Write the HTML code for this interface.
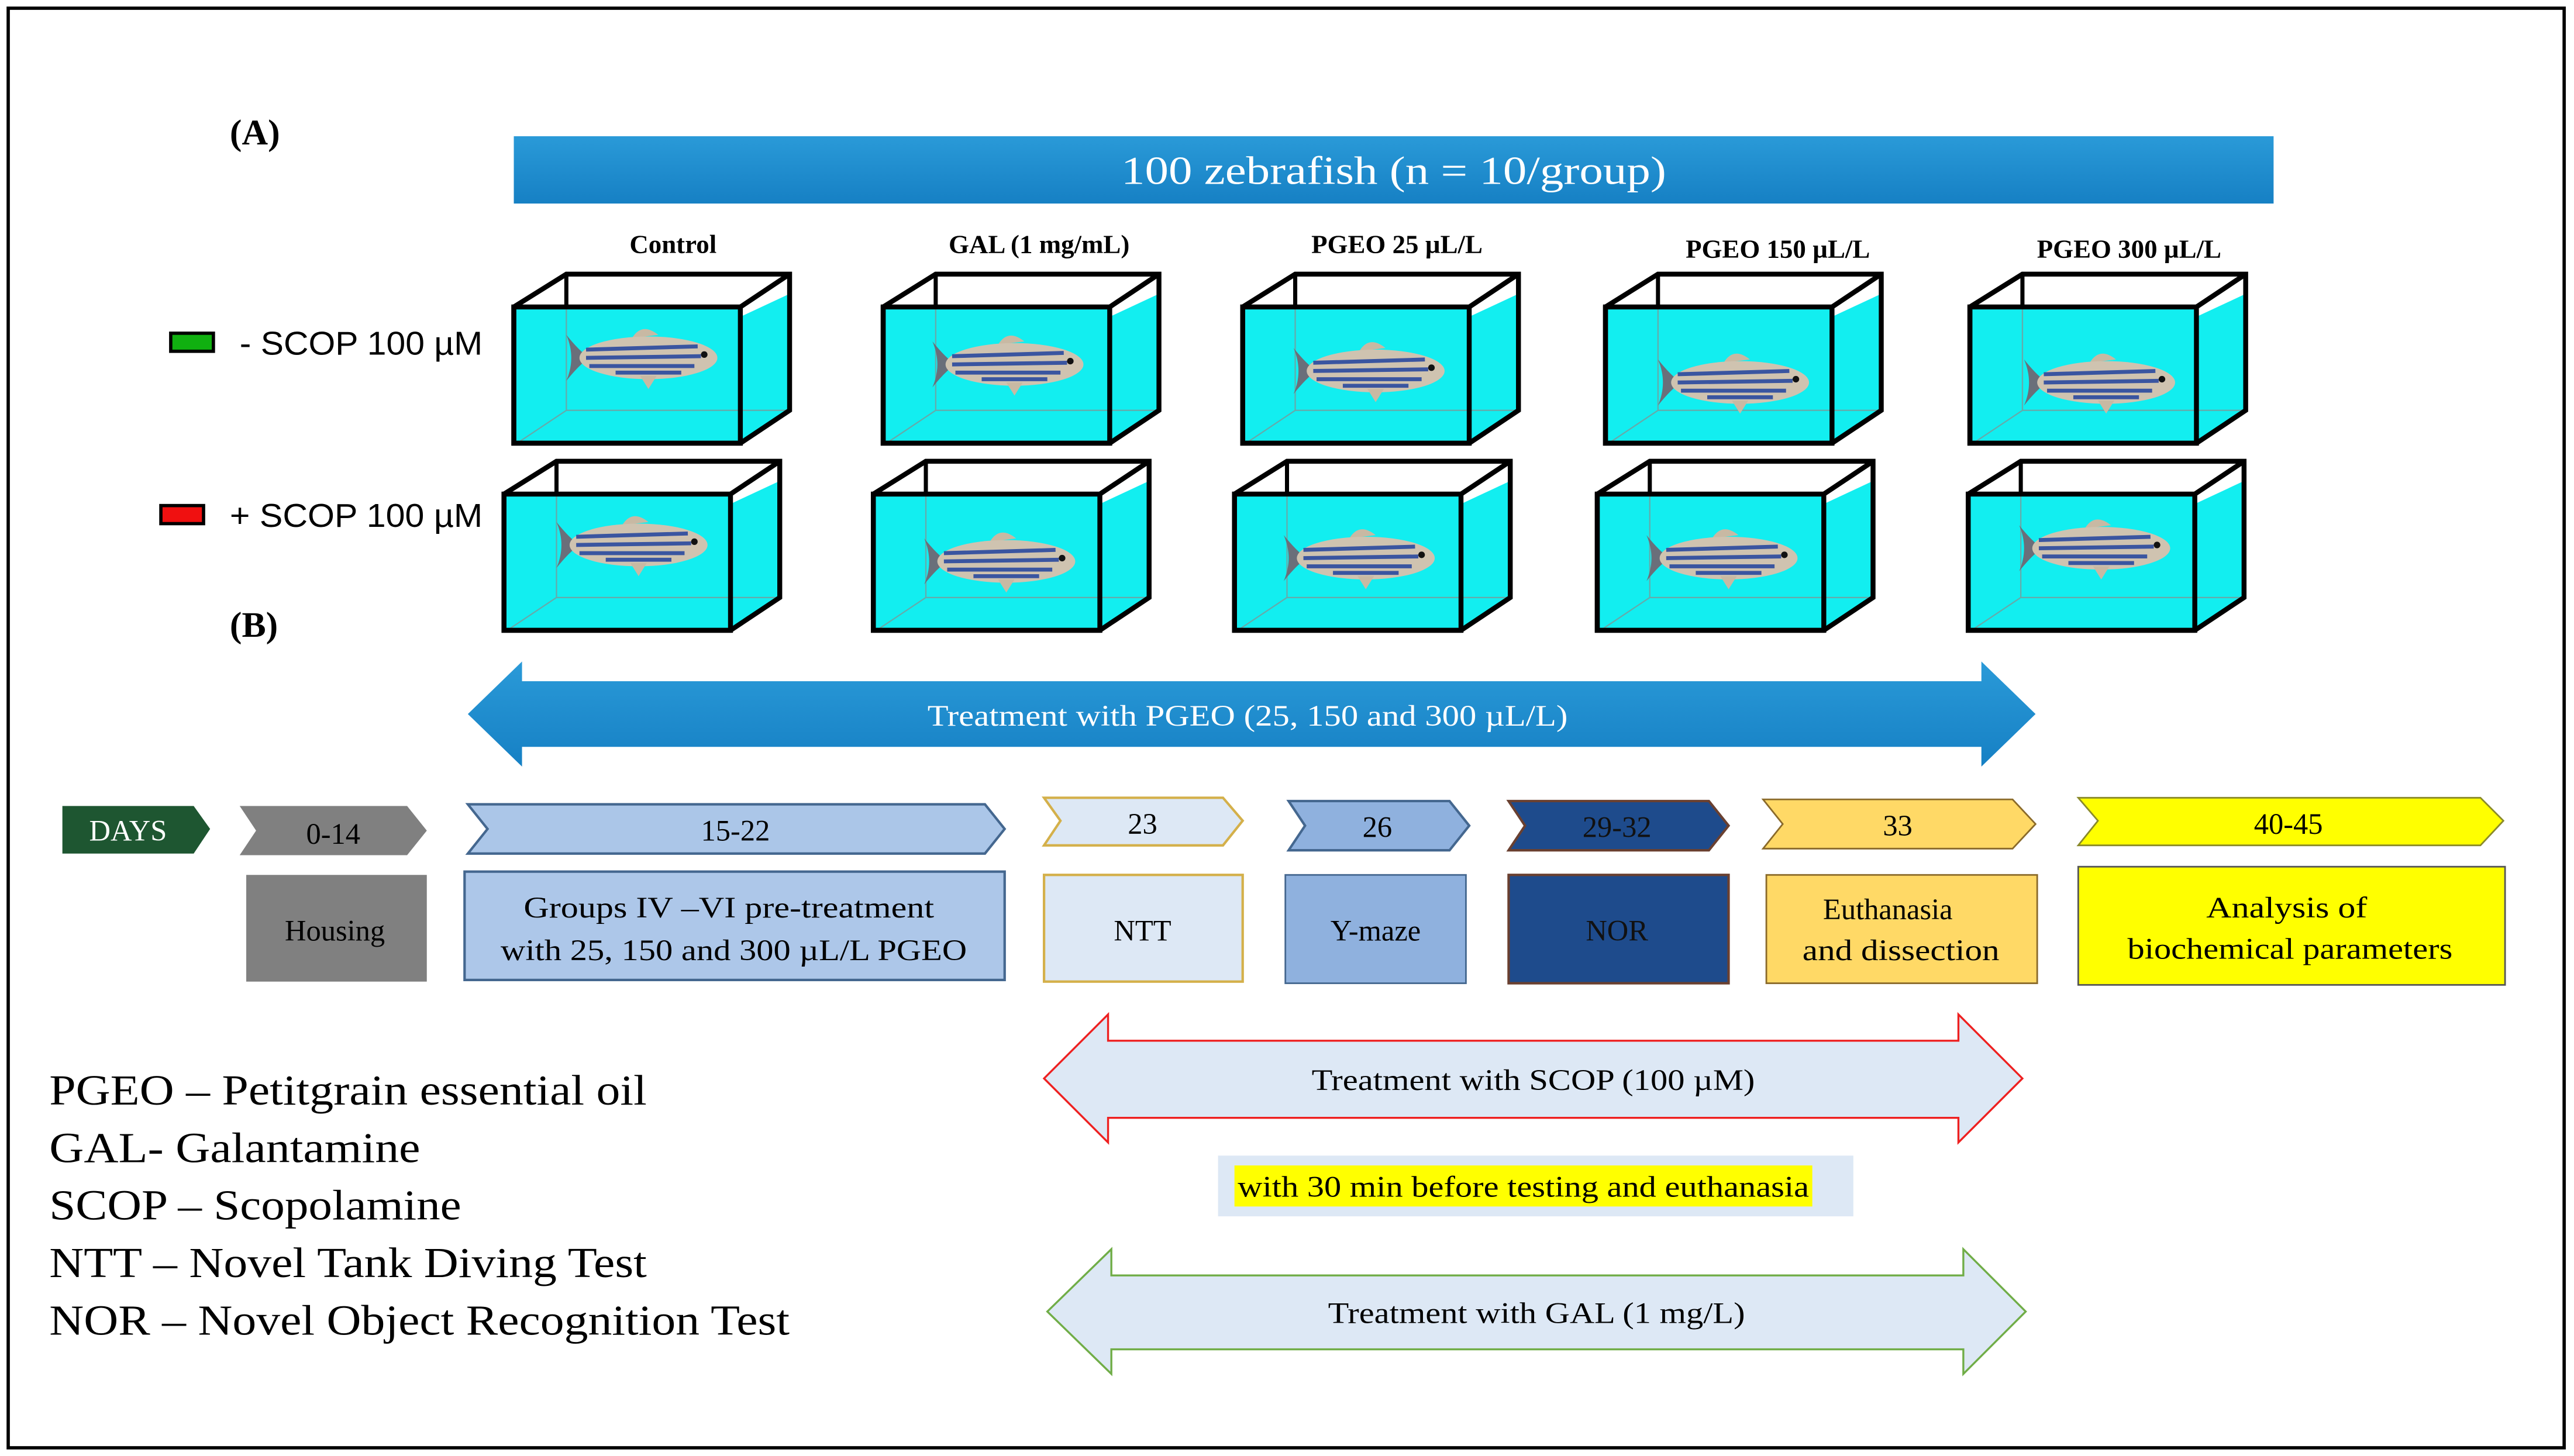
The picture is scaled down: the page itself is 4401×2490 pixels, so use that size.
<!DOCTYPE html>
<html><head><meta charset="utf-8"><style>html,body{margin:0;padding:0;background:#fff}svg{display:block}</style></head>
<body>
<svg width="4401" height="2490" viewBox="0 0 1568 887" preserveAspectRatio="none" xmlns="http://www.w3.org/2000/svg" font-family="'Liberation Serif',serif">
<defs>
<linearGradient id="bb" x1="0" y1="0" x2="0" y2="1"><stop offset="0" stop-color="#2a9ad8"/><stop offset="1" stop-color="#1680c4"/></linearGradient>
<g id="fish">
<path d="M-50,-14 Q-42,-4 -36,0 Q-42,4 -50,14 Q-44,0 -50,-14Z" fill="#6a6f7a"/>
<path d="M-10,-12 Q-4,-22 6,-14 Z" fill="#c8b9a3"/>
<ellipse cx="0" cy="0" rx="42" ry="13" fill="#cfc3b0"/>
<path d="M-38,-5 L30,-7 M-38,0 L32,-1 M-36,5 L28,5 M-20,9 L20,9" stroke="#3a55a0" stroke-width="2.4"/>
<path d="M-5,11 L0,19 L5,11Z" fill="#c8b9a3"/>
<circle cx="34" cy="-2" r="2" fill="#111"/>
</g>
<g id="tank">
<polygon points="0,20 32,0 168,0 138,20" fill="#fff"/>
<rect x="0" y="20" width="138" height="83" fill="#12eef0"/>
<polygon points="138,20 168,0 168,83 138,103" fill="#12eef0"/>
<polygon points="138,20 168,0 168,12 138,26" fill="#fff"/>
<path d="M32,20 L32,83 L168,83 M32,83 L2,103" stroke="#6aa" stroke-width="0.8" fill="none"/>
<path d="M32,0 L32,20" stroke="#000" stroke-width="2.5"/>
<rect x="0" y="20" width="138" height="83" fill="none" stroke="#000" stroke-width="3"/>
<polygon points="0,20 32,0 168,0 168,83 138,103 0,103" fill="none" stroke="#000" stroke-width="3"/>
<path d="M138,20 L168,0" stroke="#000" stroke-width="3"/>
</g>
</defs>
<rect x="5" y="5" width="1557" height="877" fill="#fff" stroke="#000" stroke-width="2"/>
<text x="140" y="88" font-size="22" font-weight="bold">(A)</text>
<rect x="313" y="83" width="1072" height="41" fill="url(#bb)"/>
<text x="849" y="112" font-size="24" fill="#fff" text-anchor="middle" textLength="332" lengthAdjust="spacingAndGlyphs">100 zebrafish (n = 10/group)</text>
<g font-size="16" font-weight="bold" text-anchor="middle">
<text x="410" y="154">Control</text><text x="633" y="154">GAL (1 mg/mL)</text><text x="851" y="154">PGEO 25 µL/L</text><text x="1083" y="157">PGEO 150 µL/L</text><text x="1297" y="157">PGEO 300 µL/L</text>
</g>
<use href="#tank" x="313" y="167"/><use href="#fish" x="395" y="218"/>
<use href="#tank" x="538" y="167"/><use href="#fish" x="618" y="222"/>
<use href="#tank" x="757" y="167"/><use href="#fish" x="838" y="226"/>
<use href="#tank" x="978" y="167"/><use href="#fish" x="1060" y="233"/>
<use href="#tank" x="1200" y="167"/><use href="#fish" x="1283" y="233"/>
<use href="#tank" x="307" y="281"/><use href="#fish" x="389" y="332"/>
<use href="#tank" x="532" y="281"/><use href="#fish" x="613" y="342"/>
<use href="#tank" x="752" y="281"/><use href="#fish" x="832" y="340"/>
<use href="#tank" x="973" y="281"/><use href="#fish" x="1053" y="340"/>
<use href="#tank" x="1199" y="281"/><use href="#fish" x="1280" y="334"/>
<rect x="104" y="203" width="26" height="11" fill="#10b010" stroke="#000" stroke-width="2"/>
<text x="146" y="216" font-family="'Liberation Sans',sans-serif" font-size="20" textLength="148" lengthAdjust="spacingAndGlyphs">- SCOP 100 µM</text>
<rect x="98" y="308" width="26" height="11" fill="#f01010" stroke="#000" stroke-width="2"/>
<text x="140" y="321" font-family="'Liberation Sans',sans-serif" font-size="20" textLength="154" lengthAdjust="spacingAndGlyphs">+ SCOP 100 µM</text>
<text x="140" y="388" font-size="22" font-weight="bold">(B)</text>
<polygon points="285,435 318,403 318,415 1207,415 1207,403 1240,435 1207,467 1207,455 318,455 318,467" fill="url(#bb)"/>
<text x="760" y="442" font-size="18" fill="#fff" text-anchor="middle" textLength="390" lengthAdjust="spacingAndGlyphs">Treatment with PGEO (25, 150 and 300 µL/L)</text>
<g font-size="18" text-anchor="middle">
<polygon points="38,491 118,491 128,505 118,520 38,520" fill="#1e5631"/><text x="78" y="512" fill="#fff">DAYS</text>
<polygon points="146,491 248,491 260,506 248,521 146,521 156,506" fill="#808080"/><text x="203" y="514">0-14</text>
<polygon points="285,490 600,490 612,505 600,520 285,520 297,505" fill="#abc6e8" stroke="#44678f" stroke-width="1.5"/><text x="448" y="512">15-22</text>
<polygon points="636,486 745,486 757,500 745,515 636,515 646,500" fill="#dde8f5" stroke="#d4b04a" stroke-width="1.5"/><text x="696" y="508">23</text>
<polygon points="785,488 883,488 895,503 883,518 785,518 795,503" fill="#8fb1de" stroke="#44678f" stroke-width="1.5"/><text x="839" y="510">26</text>
<polygon points="919,488 1041,488 1053,503 1041,518 919,518 929,503" fill="#1e4b8c" stroke="#6a4030" stroke-width="1.5"/><text x="985" y="510" fill="#111">29-32</text>
<polygon points="1074,487 1226,487 1240,502 1226,517 1074,517 1086,502" fill="#ffd966" stroke="#8a6a2a" stroke-width="1"/><text x="1156" y="509">33</text>
<polygon points="1266,486 1511,486 1525,500 1511,515 1266,515 1278,500" fill="#ffff00" stroke="#8a8a2a" stroke-width="1"/><text x="1394" y="508">40-45</text>
</g>
<g font-size="18" text-anchor="middle">
<rect x="150" y="533" width="110" height="65" fill="#808080"/><text x="204" y="573">Housing</text>
<rect x="283" y="531" width="329" height="66" fill="#adc7e9" stroke="#44678f" stroke-width="1.5"/><text x="444" y="559" textLength="250" lengthAdjust="spacingAndGlyphs">Groups IV –VI pre-treatment</text><text x="447" y="585" textLength="284" lengthAdjust="spacingAndGlyphs">with 25, 150 and 300 µL/L PGEO</text>
<rect x="636" y="533" width="121" height="65" fill="#dde8f5" stroke="#d4b04a" stroke-width="1.5"/><text x="696" y="573">NTT</text>
<rect x="783" y="533" width="110" height="66" fill="#8fb1de" stroke="#44678f" stroke-width="1"/><text x="838" y="573">Y-maze</text>
<rect x="919" y="533" width="134" height="66" fill="#1e4b8c" stroke="#6a4030" stroke-width="1.5"/><text x="985" y="573" fill="#111">NOR</text>
<rect x="1076" y="533" width="165" height="66" fill="#ffd966" stroke="#8a6a2a" stroke-width="1"/><text x="1150" y="560">Euthanasia</text><text x="1158" y="585" textLength="120" lengthAdjust="spacingAndGlyphs">and dissection</text>
<rect x="1266" y="528" width="260" height="72" fill="#ffff00" stroke="#555" stroke-width="1"/><text x="1393" y="559" textLength="98" lengthAdjust="spacingAndGlyphs">Analysis of</text><text x="1395" y="584" textLength="198" lengthAdjust="spacingAndGlyphs">biochemical parameters</text>
</g>
<g font-size="26">
<text x="30" y="673" textLength="364" lengthAdjust="spacingAndGlyphs">PGEO – Petitgrain essential oil</text>
<text x="30" y="708" textLength="226" lengthAdjust="spacingAndGlyphs">GAL- Galantamine</text>
<text x="30" y="743" textLength="251" lengthAdjust="spacingAndGlyphs">SCOP – Scopolamine</text>
<text x="30" y="778" textLength="364" lengthAdjust="spacingAndGlyphs">NTT – Novel Tank Diving Test</text>
<text x="30" y="813" textLength="451" lengthAdjust="spacingAndGlyphs">NOR – Novel Object Recognition Test</text>
</g>
<polygon points="636,657 675,618 675,634 1193,634 1193,618 1232,657 1193,696 1193,681 675,681 675,696" fill="#dde8f5" stroke="#ee2020" stroke-width="1.2"/>
<text x="934" y="664" font-size="18" text-anchor="middle" textLength="270" lengthAdjust="spacingAndGlyphs">Treatment with SCOP (100 µM)</text>
<rect x="742" y="704" width="387" height="37" fill="#dde8f5"/>
<rect x="752" y="710" width="352" height="25" fill="#ffff00"/>
<text x="928" y="729" font-size="18" text-anchor="middle" textLength="348" lengthAdjust="spacingAndGlyphs">with 30 min before testing and euthanasia</text>
<polygon points="638,799 677,761 677,777 1196,777 1196,761 1234,799 1196,837 1196,822 677,822 677,837" fill="#dde8f5" stroke="#70ad47" stroke-width="1.2"/>
<text x="936" y="806" font-size="18" text-anchor="middle" textLength="254" lengthAdjust="spacingAndGlyphs">Treatment with GAL (1 mg/L)</text>
</svg>
</body></html>
